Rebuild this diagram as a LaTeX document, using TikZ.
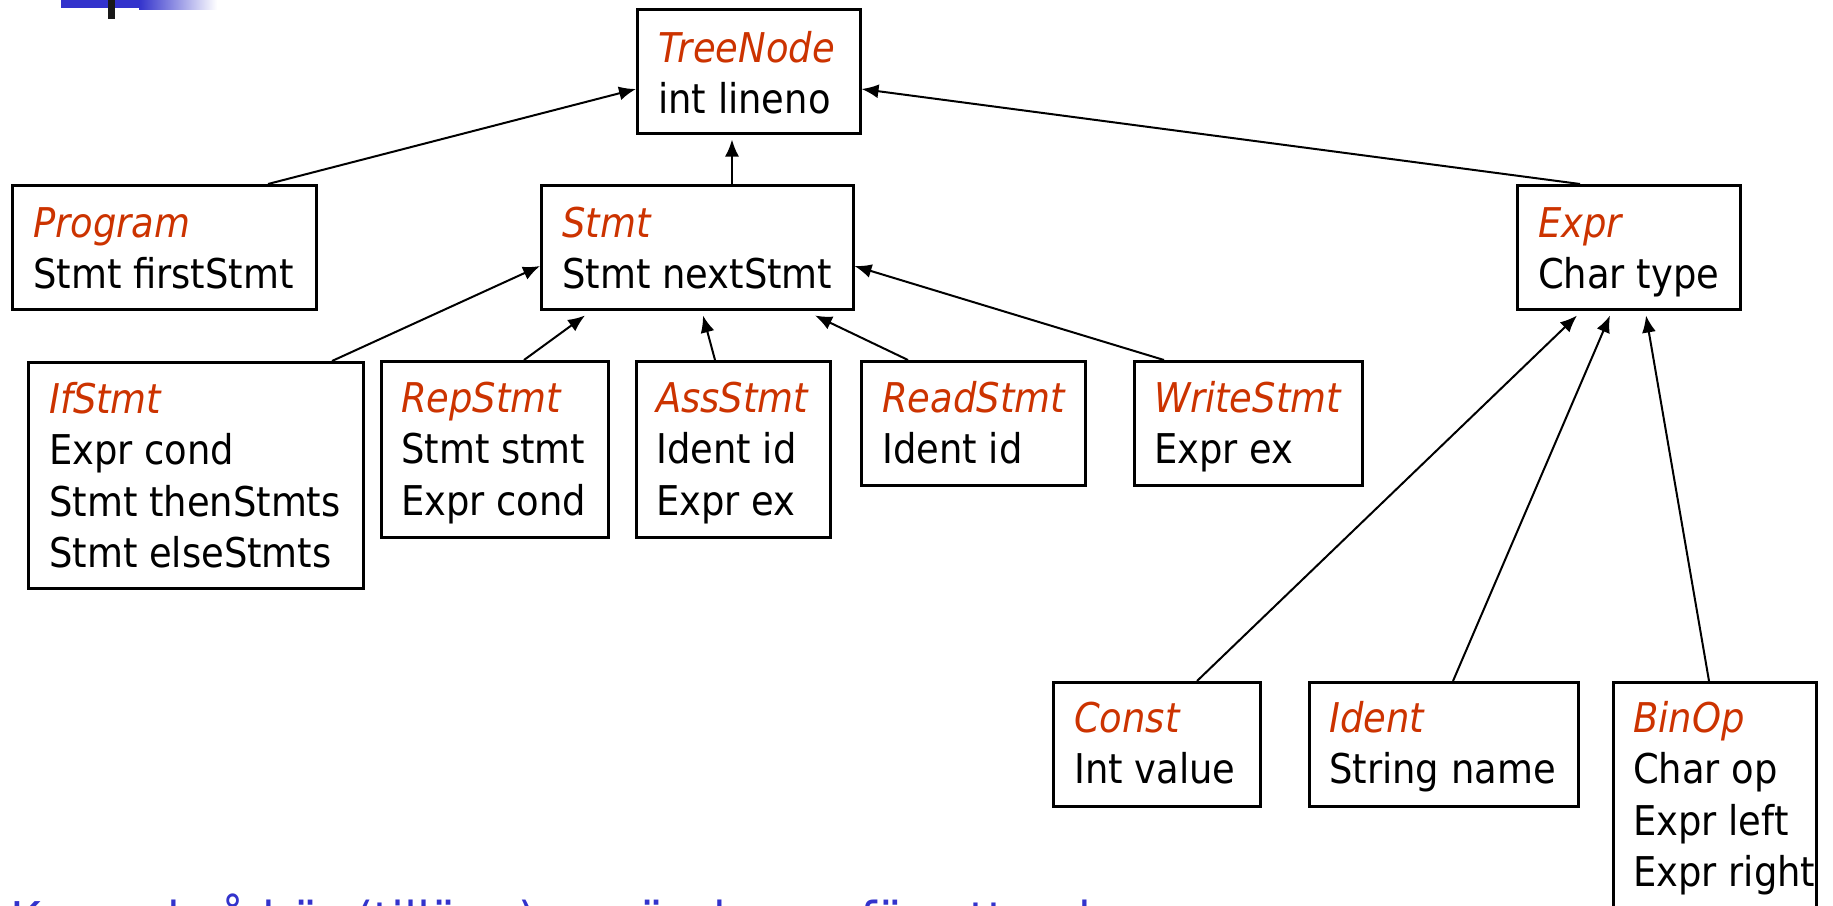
\documentclass[tikz,border=0pt]{standalone}
\usepackage{fontspec}
\setmainfont{DejaVu Sans}[FakeStretch=0.9]
\usetikzlibrary{calc,arrows.meta}
\definecolor{clsred}{RGB}{204,51,0}
\definecolor{slideblue}{RGB}{51,51,204}
\newcommand\clsname[1]{{\color{clsred}\itshape #1}}
\newcommand\lines[1]{\begin{tabular}[t]{@{}l@{}}#1\end{tabular}}
\tikzset{
  box/.style={draw=black, line width=2.5pt, inner sep=0pt, anchor=north west},
  txt/.style={anchor=base west, inner sep=0pt, font=\fontsize{41}{51.5}\selectfont},
  arr/.style={line width=2pt, -{Latex[length=17pt,width=14pt]}},
  note/.style={anchor=base west, inner sep=0pt, text=slideblue, font=\fontsize{52}{60}\selectfont}
}
\begin{document}
\begin{tikzpicture}[x=1pt,y=-1pt]
\useasboundingbox (0,0) rectangle (1833,905);
\clip (0,0) rectangle (1833,905);
\fill[white] (0,0) rectangle (1833,905);
% slide decoration
\fill[slideblue] (61,0) rectangle (139,8);
\shade[left color=slideblue, right color=white] (139,0) rectangle (217,9);
\fill[black!90] (108,0) rectangle (115,19);
% boxes
\node[box, minimum width=223pt, minimum height=124pt] (TreeNode) at (636,8) {};
\node[box, minimum width=304pt, minimum height=124pt] (Program) at (11,184) {};
\node[box, minimum width=312pt, minimum height=124pt] (Stmt) at (540,184) {};
\node[box, minimum width=223pt, minimum height=124pt] (Expr) at (1516,184) {};
\node[box, minimum width=335pt, minimum height=226pt] (IfStmt) at (27,361) {};
\node[box, minimum width=227pt, minimum height=176pt] (RepStmt) at (380,360) {};
\node[box, minimum width=194pt, minimum height=176pt] (AssStmt) at (635,360) {};
\node[box, minimum width=224pt, minimum height=124pt] (ReadStmt) at (860,360) {};
\node[box, minimum width=228pt, minimum height=124pt] (WriteStmt) at (1133,360) {};
\node[box, minimum width=207pt, minimum height=124pt] (Const) at (1052,681) {};
\node[box, minimum width=269pt, minimum height=124pt] (Ident) at (1308,681) {};
\node[box, minimum width=203pt, minimum height=240pt] (BinOp) at (1612,681) {};
% texts
\node[txt] (TreeNodeT) at ($(TreeNode.north west)+(22,54)$) {\lines{\clsname{TreeNode}\\int lineno}};
\node[txt] (ProgramT) at ($(Program.north west)+(22,53)$) {\lines{\clsname{Program}\\Stmt firstStmt}};
\node[txt] (StmtT) at ($(Stmt.north west)+(22,53)$) {\lines{\clsname{Stmt}\\Stmt nextStmt}};
\node[txt] (ExprT) at ($(Expr.north west)+(22,53)$) {\lines{\clsname{Expr}\\Char type}};
\node[txt] (IfStmtT) at ($(IfStmt.north west)+(22,52)$) {\lines{\clsname{IfStmt}\\Expr cond\\Stmt thenStmts\\Stmt elseStmts}};
\node[txt] (RepStmtT) at ($(RepStmt.north west)+(21,52)$) {\lines{\clsname{RepStmt}\\Stmt stmt\\Expr cond}};
\node[txt] (AssStmtT) at ($(AssStmt.north west)+(21,52)$) {\lines{\clsname{AssStmt}\\Ident id\\Expr ex}};
\node[txt] (ReadStmtT) at ($(ReadStmt.north west)+(22,52)$) {\lines{\clsname{ReadStmt}\\Ident id}};
\node[txt] (WriteStmtT) at ($(WriteStmt.north west)+(21,52)$) {\lines{\clsname{WriteStmt}\\Expr ex}};
\node[txt] (ConstT) at ($(Const.north west)+(22,51)$) {\lines{\clsname{Const}\\Int value}};
\node[txt] (IdentT) at ($(Ident.north west)+(21,51)$) {\lines{\clsname{Ident}\\String name}};
\node[txt] (BinOpT) at ($(BinOp.north west)+(21,51)$) {\lines{\clsname{BinOp}\\Char op\\Expr left\\Expr right}};
% connectors
\draw[arr] ($(Program.north west)+(257,0)$) -- ($(TreeNode.north west)+(0,81)$);
\draw[arr] ($(Stmt.north west)+(192,0)$) -- ($(TreeNode.south west)+(96,5)$);
\draw[arr] ($(Expr.north west)+(64,0)$) -- ($(TreeNode.north east)+(0,81)$);
\draw[arr] ($(IfStmt.north west)+(305,0)$) -- ($(Stmt.north west)+(0,82)$);
\draw[arr] ($(RepStmt.north west)+(144,0)$) -- ($(Stmt.south west)+(45,5)$);
\draw[arr] ($(AssStmt.north west)+(80,0)$) -- ($(Stmt.south west)+(163,5)$);
\draw[arr] ($(ReadStmt.north west)+(48,0)$) -- ($(Stmt.south west)+(275,5)$);
\draw[arr] ($(WriteStmt.north west)+(31,0)$) -- ($(Stmt.north east)+(0,82)$);
\draw[arr] ($(Const.north west)+(145,0)$) -- ($(Expr.south west)+(61,5)$);
\draw[arr] ($(Ident.north west)+(145,0)$) -- ($(Expr.south west)+(94,5)$);
\draw[arr] ($(BinOp.north west)+(97,0)$) -- ($(Expr.south west)+(130,5)$);
% bottom note (cut off by the slide edge)
\node[note] (note) at (10,939) {Kan också här (tillägg) använda arv för uttryck};
\end{tikzpicture}
\end{document}
